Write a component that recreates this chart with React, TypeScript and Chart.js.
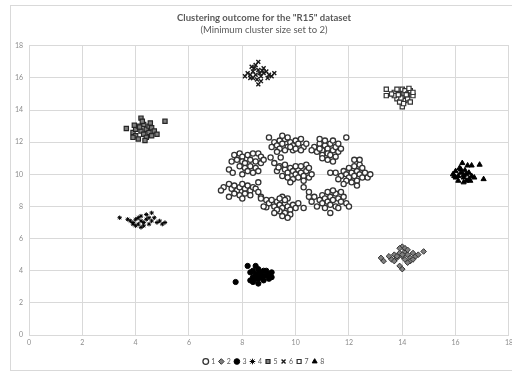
import { useEffect, useRef } from "react";
import { Chart, registerables } from "chart.js";
Chart.register(...registerables);

const titleText = 'Clustering outcome for the "R15" dataset';
const subtitleText = "(Minimum cluster size set to 2)";
const seriesNames = ["1", "2", "3", "4", "5", "6", "7", "8"];
const axisMin = 0;
const axisMax = 18;
const axisStep = 2;

const cluster1: number[][] = [
  [7.7,11.2],[7.9,11.3],[8.0,11.1],[8.2,11.2],[8.4,11.3],[8.6,11.3],[8.7,11.1],[7.6,10.8],[7.8,10.9],[8.0,10.8],[8.1,10.7],[8.3,10.9],[8.5,10.8],[8.7,10.7],[7.9,10.5],[8.1,10.4],[8.3,10.5],[8.5,10.4],[8.2,10.2],[8.4,10.1],[8.0,10.0],[7.5,10.3],[8.8,10.9],[8.6,10.2],[7.64,10.1],
  [7.3,9.2],[7.5,9.4],[7.6,9.1],[7.7,9.3],[7.8,9.0],[7.9,9.2],[8.0,9.4],[8.1,9.1],[8.2,9.3],[8.3,9.0],[8.4,9.2],[8.5,9.1],[8.6,8.9],[7.7,8.8],[7.9,8.7],[8.1,8.8],[8.3,8.7],[7.5,8.6],[8.0,8.5],[8.7,8.6],[8.9,8.4],[8.6,9.5],[7.2,9.0],[8.7,8.5],[8.9,7.95],
  [9.0,12.3],[9.2,12.0],[9.3,11.8],[9.4,12.1],[9.5,11.9],[9.6,12.2],[9.7,11.7],[9.8,12.0],[9.9,11.8],[10.0,12.1],[10.1,11.9],[10.2,12.2],[9.4,11.6],[9.6,11.5],[9.9,11.5],[10.3,11.7],[9.1,11.7],[9.7,12.3],[10.0,11.6],[9.3,11.4],[10.4,11.9],[9.5,12.4],[9.8,11.7],[10.2,11.5],[9.06,11.05],[9.44,11.05],
  [10.7,11.7],[10.9,11.9],[11.0,11.5],[11.1,11.8],[11.2,11.6],[11.3,11.9],[11.4,11.5],[11.5,11.7],[11.6,11.4],[11.2,11.3],[11.0,11.2],[10.8,11.4],[11.4,12.1],[11.6,11.9],[11.1,12.1],[10.9,11.6],[11.3,11.2],[11.5,11.1],[11.2,10.9],[10.6,11.5],[11.7,11.6],[11.9,12.3],[10.9,12.2],[11.4,10.8],[11.0,11.0],
  [9.4,10.5],[9.6,10.3],[9.7,10.1],[9.8,10.4],[9.9,10.2],[10.0,10.0],[10.1,10.3],[10.2,10.1],[10.3,9.9],[10.4,10.2],[9.5,9.9],[9.7,9.8],[9.9,9.7],[10.1,9.8],[10.3,9.6],[10.5,9.8],[9.6,10.6],[10.2,10.5],[10.4,10.6],[9.3,10.2],[9.8,9.5],[10.0,10.5],[10.6,10.0],[9.2,10.7],[10.5,10.4],[10.3,9.2],[10.5,8.6],[9.36,10.43],
  [11.5,10.1],[11.7,9.9],[11.8,10.2],[11.9,10.0],[12.0,9.8],[12.1,10.1],[12.2,9.9],[12.3,10.2],[12.4,10.0],[12.5,9.8],[12.6,10.1],[11.9,9.6],[12.1,9.5],[12.3,9.6],[12.0,10.4],[12.2,10.5],[12.4,10.6],[12.7,9.8],[11.6,9.7],[12.5,10.4],[12.2,10.9],[12.4,10.9],[12.3,9.3],[11.8,9.4],[12.8,10.0],[11.3,10.1],
  [9.0,8.2],[9.2,8.0],[9.3,8.3],[9.4,8.1],[9.5,7.9],[9.6,8.2],[9.7,8.0],[9.8,7.8],[9.4,7.7],[9.6,7.6],[9.3,7.8],[9.7,8.5],[9.5,8.6],[9.9,8.1],[10.0,7.9],[9.2,7.6],[9.5,7.4],[9.8,7.5],[9.1,8.4],[10.1,8.2],[9.6,8.4],[9.4,8.5],[8.8,8.0],[10.3,7.9],[9.7,7.3],
  [10.7,8.6],[10.9,8.4],[11.0,8.7],[11.1,8.5],[11.2,8.3],[11.3,8.6],[11.4,8.4],[11.5,8.8],[11.6,8.5],[11.7,8.3],[11.2,8.9],[11.4,9.0],[11.0,8.2],[11.3,8.1],[11.5,8.0],[11.8,8.6],[10.8,8.0],[11.1,7.9],[11.6,7.9],[11.9,8.2],[10.5,8.9],[11.7,8.9],[11.3,7.6],[10.6,8.3],[12.0,8.0],
];
const cluster2: number[][] = [
  [13.2,4.8],[13.3,4.6],[13.5,4.9],[13.6,4.7],[13.7,5.0],[13.8,4.8],[13.9,5.1],[14.0,4.9],[14.1,5.2],[14.2,5.0],[14.3,4.8],[14.4,5.1],[14.0,5.5],[14.1,5.4],[13.9,5.4],[14.2,5.3],[14.3,4.6],[14.4,4.7],[14.5,4.9],[13.8,4.9],[14.1,4.7],[14.2,4.5],[13.9,4.3],[14.0,4.1],[14.8,5.2],[13.7,4.6],[14.6,5.0],[14.0,5.0],
];
const cluster3: number[][] = [
  [7.75,3.3],[8.2,4.3],[8.5,4.3],[8.3,3.9],[8.4,3.6],[8.5,3.8],[8.6,3.5],[8.7,3.9],[8.8,3.7],[8.9,4.0],[9.0,3.8],[9.1,3.6],[8.6,4.1],[8.4,3.3],[8.6,3.2],[8.8,3.4],[9.0,3.5],[8.7,3.6],[8.9,3.7],[8.5,3.5],[8.3,3.4],[9.1,3.9],[8.8,4.0],[8.6,3.8],[8.4,4.0],
];
const cluster4: number[][] = [
  [3.4,7.3],[3.7,7.2],[3.9,7.0],[4.0,7.2],[4.1,6.9],[4.2,7.1],[4.3,7.0],[4.4,7.2],[4.5,6.9],[4.6,7.1],[4.2,7.4],[4.4,7.5],[4.7,7.3],[4.8,7.0],[4.9,7.1],[5.0,6.9],[4.1,7.3],[4.3,6.8],[3.9,6.9],[4.0,6.8],[4.6,7.6],[4.2,6.7],[4.5,7.3],[5.1,7.0],[3.8,7.1],
];
const cluster5: number[][] = [
  [3.65,12.85],[3.9,12.6],[4.0,12.4],[4.0,12.8],[4.1,13.0],[4.2,12.7],[4.2,13.5],[4.3,12.5],[4.3,13.1],[4.4,12.8],[4.4,12.3],[4.5,13.0],[4.5,12.6],[4.6,12.9],[4.6,12.4],[4.7,12.7],[3.9,12.3],[4.1,12.2],[4.35,12.1],[4.25,13.3],[4.55,13.2],[4.8,12.5],[5.1,13.3],[4.15,12.95],[3.95,13.05],
];
const cluster6: number[][] = [
  [8.1,16.1],[8.2,16.3],[8.3,16.0],[8.4,16.4],[8.5,16.2],[8.6,16.5],[8.7,16.1],[8.8,16.3],[8.9,16.4],[9.0,16.2],[9.1,16.1],[8.5,16.8],[8.6,17.0],[8.45,16.6],[8.7,15.8],[8.55,15.9],[8.35,16.7],[8.8,16.6],[9.2,16.3],[8.3,16.2],[8.65,16.3],[8.75,16.45],[8.6,15.6],[8.4,16.0],[8.95,16.0],
];
const cluster7: number[][] = [
  [13.4,15.3],[13.4,14.9],[13.7,15.1],[13.8,15.3],[13.9,15.0],[14.0,15.3],[14.1,15.2],[14.2,15.0],[14.3,15.2],[14.4,14.9],[14.0,14.8],[14.1,14.6],[13.8,14.7],[13.9,14.5],[14.2,14.7],[14.3,14.5],[14.0,14.2],[13.7,14.9],[14.4,15.1],[13.6,15.0],[14.15,14.95],[13.95,14.75],[14.25,15.35],[13.85,14.95],[14.05,14.4],
];
const cluster8: number[][] = [
  [15.9,10.0],[16.0,10.2],[16.1,9.9],[16.2,10.1],[16.3,9.8],[16.4,10.0],[16.5,9.7],[16.6,9.9],[16.1,9.6],[16.3,9.5],[16.4,9.6],[16.2,10.3],[16.0,9.8],[16.5,10.1],[16.7,9.8],[16.25,10.7],[16.45,10.55],[16.6,10.55],[16.9,10.6],[17.05,9.7],[16.15,10.4],[16.35,10.25],[15.95,9.9],[16.55,9.6],[16.3,9.95],
];

const clusters = [cluster1, cluster2, cluster3, cluster4, cluster5, cluster6, cluster7, cluster8];

const styles: any[] = [
  { pointStyle: "circle", radius: 2.6, bg: "#ffffff", border: "#333333", bw: 1.3 },
  { pointStyle: "rectRot", radius: 2.8, bg: "#7f7f7f", border: "#333333", bw: 1 },
  { pointStyle: "circle", radius: 2.6, bg: "#000000", border: "#000000", bw: 1 },
  { pointStyle: "star", radius: 2.2, bg: "#000000", border: "#000000", bw: 1 },
  { pointStyle: "rect", radius: 3, bg: "#808080", border: "#262626", bw: 1.2 },
  { pointStyle: "crossRot", radius: 2.8, bg: "#000000", border: "#1a1a1a", bw: 1.4 },
  { pointStyle: "rect", radius: 3, bg: "#ffffff", border: "#333333", bw: 1.2 },
  { pointStyle: "triangle", radius: 3, bg: "#000000", border: "#000000", bw: 1 },
];

export default function App() {
  const ref = useRef<HTMLCanvasElement>(null);
  useEffect(() => {
    if (!ref.current) return;
    const chart = new Chart(ref.current, {
      type: "scatter",
      data: {
        datasets: clusters.map((c, i) => ({
          label: seriesNames[i],
          data: c.map(([x, y]) => ({ x, y })),
          pointStyle: styles[i].pointStyle,
          pointRadius: styles[i].radius,
          pointBackgroundColor: styles[i].bg,
          pointBorderColor: styles[i].border,
          pointBorderWidth: styles[i].bw,
          backgroundColor: styles[i].bg,
          borderColor: styles[i].border,
          borderWidth: styles[i].bw,
        })),
      },
      options: {
        animation: false,
        responsive: false,
        devicePixelRatio: 1,
        layout: { padding: { left: 0, right: 0, top: 0, bottom: 0 } },
        plugins: {
          title: {
            display: true,
            text: titleText,
            color: "#595959",
            font: { family: "Lato", size: 9.5, weight: "bold" },
            padding: { top: 6, bottom: 0 },
          },
          subtitle: {
            display: true,
            text: subtitleText,
            color: "#595959",
            font: { family: "Lato", size: 9.5, weight: "normal" },
            padding: { top: 1, bottom: 10 },
          },
          legend: {
            position: "bottom",
            labels: {
              usePointStyle: true,
              boxWidth: 4,
              boxHeight: 4,
              padding: 4,
              color: "#595959",
              font: { family: "Lato", size: 7 },
            },
          },
          tooltip: { enabled: false },
        },
        scales: {
          x: {
            type: "linear",
            min: axisMin,
            max: axisMax,
            ticks: { stepSize: axisStep, color: "#8c8c8c", font: { family: "Lato", size: 7 }, padding: 4 },
            grid: { color: "#d9d9d9", drawTicks: false },
            border: { color: "#d9d9d9" },
            afterFit: (s: any) => { s.height = 19; },
          },
          y: {
            type: "linear",
            min: axisMin,
            max: axisMax,
            ticks: { stepSize: axisStep, color: "#8c8c8c", font: { family: "Lato", size: 7 }, padding: 6 },
            grid: { color: "#d9d9d9", drawTicks: false },
            border: { color: "#d9d9d9" },
            afterFit: (s: any) => { s.width = 18; },
          },
        },
      },
    });
    return () => chart.destroy();
  }, []);
  return (
    <div style={{ position: "fixed", left: 0, top: 0, width: 512, height: 371, background: "#fff", overflow: "hidden" }}>
      <div style={{ position: "absolute", left: 10, top: 5, width: 600, height: 364, border: "1px solid #d9d9d9" }}>
        <canvas ref={ref} width={506} height={369} style={{ position: "absolute", left: 0, top: 0 }} />
      </div>
    </div>
  );
}
